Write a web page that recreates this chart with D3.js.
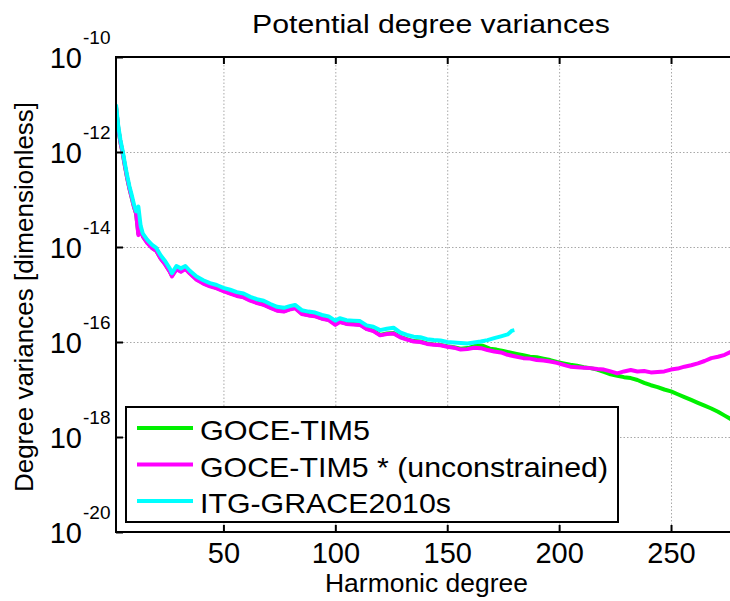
<!DOCTYPE html>
<html>
  <head>
    <meta charset="utf-8">
    <title>Potential degree variances</title>
    <script src="https://cdn.jsdelivr.net/npm/d3@7/dist/d3.min.js"></script>
    <style>
      body { margin: 0; background: #fff; }
      #chart { display: block; font-family: "Liberation Sans", Arial, sans-serif; }
      .grid line { stroke: #a8a8a8; stroke-width: 1; stroke-dasharray: 1.5, 2; }
      .grid .domain { display: none; }
      .axis .domain { display: none; }
      .axis line { stroke: #000; stroke-width: 2; }
      .series { fill: none; stroke-width: 4; stroke-linejoin: round; }
    </style>
  </head>

  <body>
    <svg id="chart" width="730" height="601"></svg>

    <script>
      // data: log10 of degree variance
      // GOCE-TIM5 (green)
      timDeg = [2, 3, 4, 5, 6, 7, 8, 9, 10, 11, 12, 13, 14, 16, 18, 20, 22, 24, 26, 27, 29, 31, 33, 35, 38,
        41, 44, 47, 50, 53, 56, 59, 62, 65, 68, 71, 74, 77, 80, 82, 85, 88, 91, 94, 97, 100, 102, 105,
        108, 111, 114, 117, 120, 123, 126, 129, 132, 135, 138, 141, 144, 147, 150, 153, 156, 160, 163,
        166, 169, 172, 175, 178, 181, 184, 187, 190, 193, 196, 199, 202, 205, 208, 211, 214, 217, 220,
        223, 226, 229, 232, 235, 238, 241, 244, 247, 250, 253, 256, 259, 262, 265, 268, 271, 274, 277, 280];
      timLog = [-11.05, -11.5, -11.8, -12.03, -12.3, -12.55, -12.77, -12.96, -13.15, -13.3, -13.72, -13.6,
        -13.77, -13.91, -14.01, -14.08, -14.24, -14.36, -14.51, -14.6, -14.46, -14.51, -14.45, -14.55, -14.68,
        -14.76, -14.82, -14.86, -14.92, -14.97, -15.02, -15.05, -15.12, -15.17, -15.21, -15.27, -15.33,
        -15.35, -15.3, -15.28, -15.4, -15.43, -15.45, -15.5, -15.53, -15.62, -15.57, -15.61, -15.62, -15.63,
        -15.72, -15.76, -15.85, -15.82, -15.81, -15.89, -15.94, -15.98, -15.99, -16.03, -16.05, -16.06,
        -16.09, -16.11, -16.14, -16.12, -16.07, -16.08, -16.14, -16.16, -16.19, -16.22, -16.25, -16.28,
        -16.31, -16.32, -16.35, -16.38, -16.42, -16.45, -16.48, -16.5, -16.53, -16.55, -16.58, -16.63,
        -16.68, -16.71, -16.74, -16.76, -16.8, -16.86, -16.91, -16.95, -17.0, -17.04, -17.1, -17.16,
        -17.22, -17.28, -17.34, -17.4, -17.47, -17.55, -17.63, -17.72];

      // GOCE-TIM5 * unconstrained (magenta)
      timUncDeg = [2, 3, 4, 5, 6, 7, 8, 9, 10, 11, 12, 13, 14, 16, 18, 20, 22, 24, 26, 27, 29, 31, 33, 35, 38,
        41, 44, 47, 50, 53, 56, 59, 62, 65, 68, 71, 74, 77, 80, 82, 85, 88, 91, 94, 97, 100, 102, 105,
        108, 111, 114, 117, 120, 123, 126, 129, 132, 135, 138, 141, 144, 147, 150, 153, 156, 159, 162,
        165, 168, 171, 174, 177, 180, 184, 187, 190, 193, 196, 199, 202, 205, 208, 211, 214, 217, 220,
        223, 226, 229, 232, 235, 238, 241, 244, 247, 250, 253, 256, 259, 262, 265, 268, 271, 274, 277, 280];
      timUncLog = [-11.05, -11.5, -11.8, -12.03, -12.3, -12.55, -12.77, -12.96, -13.15, -13.3, -13.75, -13.62,
        -13.78, -13.92, -14.02, -14.08, -14.25, -14.37, -14.52, -14.62, -14.47, -14.52, -14.46, -14.56, -14.69,
        -14.77, -14.83, -14.87, -14.93, -14.98, -15.03, -15.06, -15.13, -15.18, -15.22, -15.28, -15.34,
        -15.36, -15.31, -15.29, -15.41, -15.44, -15.46, -15.51, -15.54, -15.64, -15.58, -15.62, -15.63,
        -15.64, -15.73, -15.77, -15.86, -15.83, -15.82, -15.9, -15.95, -15.99, -16.0, -16.04, -16.06, -16.07,
        -16.1, -16.12, -16.16, -16.15, -16.12, -16.13, -16.17, -16.2, -16.22, -16.27, -16.3, -16.34, -16.35,
        -16.38, -16.39, -16.41, -16.44, -16.48, -16.52, -16.53, -16.54, -16.55, -16.57, -16.58, -16.62,
        -16.66, -16.62, -16.59, -16.62, -16.61, -16.64, -16.63, -16.62, -16.58, -16.56, -16.52, -16.49,
        -16.45, -16.4, -16.34, -16.31, -16.27, -16.2, -16.15];

      // ITG-GRACE2010s (cyan)
      graceDeg = [2, 3, 4, 5, 6, 7, 8, 9, 10, 11, 12, 13, 14, 16, 18, 20, 22, 24, 26, 27, 29, 31, 33, 35, 38,
        41, 44, 47, 50, 53, 56, 59, 62, 65, 68, 71, 74, 77, 80, 82, 85, 88, 91, 94, 97, 100, 102, 105,
        108, 111, 114, 117, 120, 123, 126, 129, 132, 135, 138, 141, 144, 147, 150, 153, 156, 159, 162,
        165, 168, 171, 174, 177, 179, 180];
      graceLog = [-11.0, -11.45, -11.75, -11.98, -12.25, -12.5, -12.72, -12.9, -13.1, -13.25, -13.15, -13.55,
        -13.72, -13.85, -13.95, -14.02, -14.18, -14.3, -14.45, -14.55, -14.4, -14.45, -14.4, -14.5, -14.62,
        -14.7, -14.76, -14.8, -14.86, -14.9, -14.95, -14.98, -15.05, -15.1, -15.13, -15.2, -15.26, -15.28,
        -15.24, -15.22, -15.33, -15.36, -15.38, -15.43, -15.46, -15.55, -15.5, -15.54, -15.55, -15.56,
        -15.65, -15.68, -15.75, -15.72, -15.7, -15.8, -15.85, -15.89, -15.9, -15.94, -15.96, -15.97, -16.0,
        -16.01, -16.02, -16.03, -16.01, -15.99, -15.96, -15.92, -15.88, -15.84, -15.76, -15.75];

      seriesNames = ["GOCE-TIM5", "GOCE-TIM5 * (unconstrained)", "ITG-GRACE2010s"];
      seriesColours = ["#00f000", "#ff00ff", "#00ffff"];
      legendWidths = [170, 408, 251];

      xTicks = [50, 100, 150, 200, 250];
      yTickExps = [-10, -12, -14, -16, -18, -20];

      // elements
      chart = d3.select("#chart");
      margin = { top: 57, left: 116, bottom: 532 };

      x = d3.scaleLinear()
        .domain([2, 280])
        .range([margin.left, margin.left + 278 * 2.238]);
      y = d3.scaleLog()
        .domain([1e-20, 1e-10])
        .range([margin.bottom, margin.top]);

      plotW = x.range()[1] - x.range()[0];
      plotH = margin.bottom - margin.top;

      chart.append("clipPath").attr("id", "plotClip")
        .append("rect")
          .attr("x", margin.left).attr("y", margin.top)
          .attr("width", plotW).attr("height", plotH);

      // grid
      chart.append("g").attr("class", "grid")
        .attr("transform", "translate(0," + margin.bottom + ")")
        .call(d3.axisBottom(x).tickValues(xTicks).tickSize(-plotH).tickFormat(""));
      chart.append("g").attr("class", "grid")
        .attr("transform", "translate(" + margin.left + ",0)")
        .call(d3.axisLeft(y).tickValues(yTickExps.map(function(e) { return Math.pow(10, e); }))
          .tickSize(-plotW).tickFormat(""));

      // series
      series = [
        { deg: timDeg, val: timLog },
        { deg: timUncDeg, val: timUncLog },
        { deg: graceDeg, val: graceLog }
      ];
      line = d3.line()
        .x(function(d) { return x(d[0]); })
        .y(function(d) { return y(Math.pow(10, d[1])); });

      plotGroup = chart.append("g").attr("clip-path", "url(#plotClip)");
      series.forEach(function(s, i) {
        plotGroup.append("path")
          .attr("class", "series")
          .attr("stroke", seriesColours[i])
          .attr("d", line(d3.zip(s.deg, s.val)));
      });

      // axes (ticks point inwards)
      xAxisGroup = chart.append("g").attr("class", "axis")
        .attr("transform", "translate(0," + margin.bottom + ")")
        .call(d3.axisBottom(x).tickValues(xTicks).tickSizeInner(-7).tickSizeOuter(0).tickPadding(10));
      xAxisGroup.selectAll("text")
        .attr("fill", "#000")
        .style("font-size", "29px")
        .attr("font-family", null);

      chart.append("g").attr("class", "axis")
        .attr("transform", "translate(0," + margin.top + ")")
        .call(d3.axisTop(x).tickValues(xTicks).tickSizeInner(-7).tickSizeOuter(0).tickFormat(""));

      yAxisGroup = chart.append("g").attr("class", "axis")
        .attr("transform", "translate(" + margin.left + ",0)")
        .call(d3.axisLeft(y).tickValues(yTickExps.map(function(e) { return Math.pow(10, e); }))
          .tickSizeInner(-7).tickSizeOuter(0).tickFormat(""));
      yAxisGroup.selectAll(".tick").each(function(d) {
        let t = d3.select(this);
        t.append("text")
          .attr("x", -34).attr("y", 10)
          .attr("text-anchor", "end")
          .attr("fill", "#000")
          .style("font-size", "29px")
          .text("10");
        t.append("text")
          .attr("x", -33).attr("y", -14)
          .attr("text-anchor", "start")
          .attr("fill", "#000")
          .style("font-size", "19px")
          .text("-" + Math.round(-Math.log10(d)));
      });

      // box
      chart.append("rect")
        .attr("x", margin.left).attr("y", margin.top)
        .attr("width", plotW).attr("height", plotH)
        .attr("fill", "none").attr("stroke", "#000").attr("stroke-width", 2);

      // title and labels
      chart.append("text")
        .attr("x", 252).attr("y", 33)
        .attr("textLength", 358).attr("lengthAdjust", "spacingAndGlyphs")
        .style("font-size", "26px")
        .text("Potential degree variances");
      chart.append("text")
        .attr("x", 325).attr("y", 592)
        .attr("textLength", 203).attr("lengthAdjust", "spacingAndGlyphs")
        .style("font-size", "26px")
        .text("Harmonic degree");
      chart.append("text")
        .attr("transform", "translate(33,297) rotate(-90)")
        .attr("text-anchor", "middle")
        .style("font-size", "26px")
        .text("Degree variances [dimensionless]");

      // legend
      legend = chart.append("g");
      legend.append("rect")
        .attr("x", 126).attr("y", 407)
        .attr("width", 492).attr("height", 115)
        .attr("fill", "#fff").attr("stroke", "#000").attr("stroke-width", 2);
      rowY = d3.scalePoint().domain(seriesNames).range([428, 501]);
      seriesNames.forEach(function(name, i) {
        legend.append("line")
          .attr("x1", 137).attr("x2", 193)
          .attr("y1", rowY(name)).attr("y2", rowY(name))
          .attr("stroke", seriesColours[i]).attr("stroke-width", 4);
        legend.append("text")
          .attr("x", 200).attr("y", rowY(name) + 12)
          .attr("textLength", legendWidths[i]).attr("lengthAdjust", "spacingAndGlyphs")
          .style("font-size", "28px")
          .text(name);
      });
    </script>
  </body>
</html>
